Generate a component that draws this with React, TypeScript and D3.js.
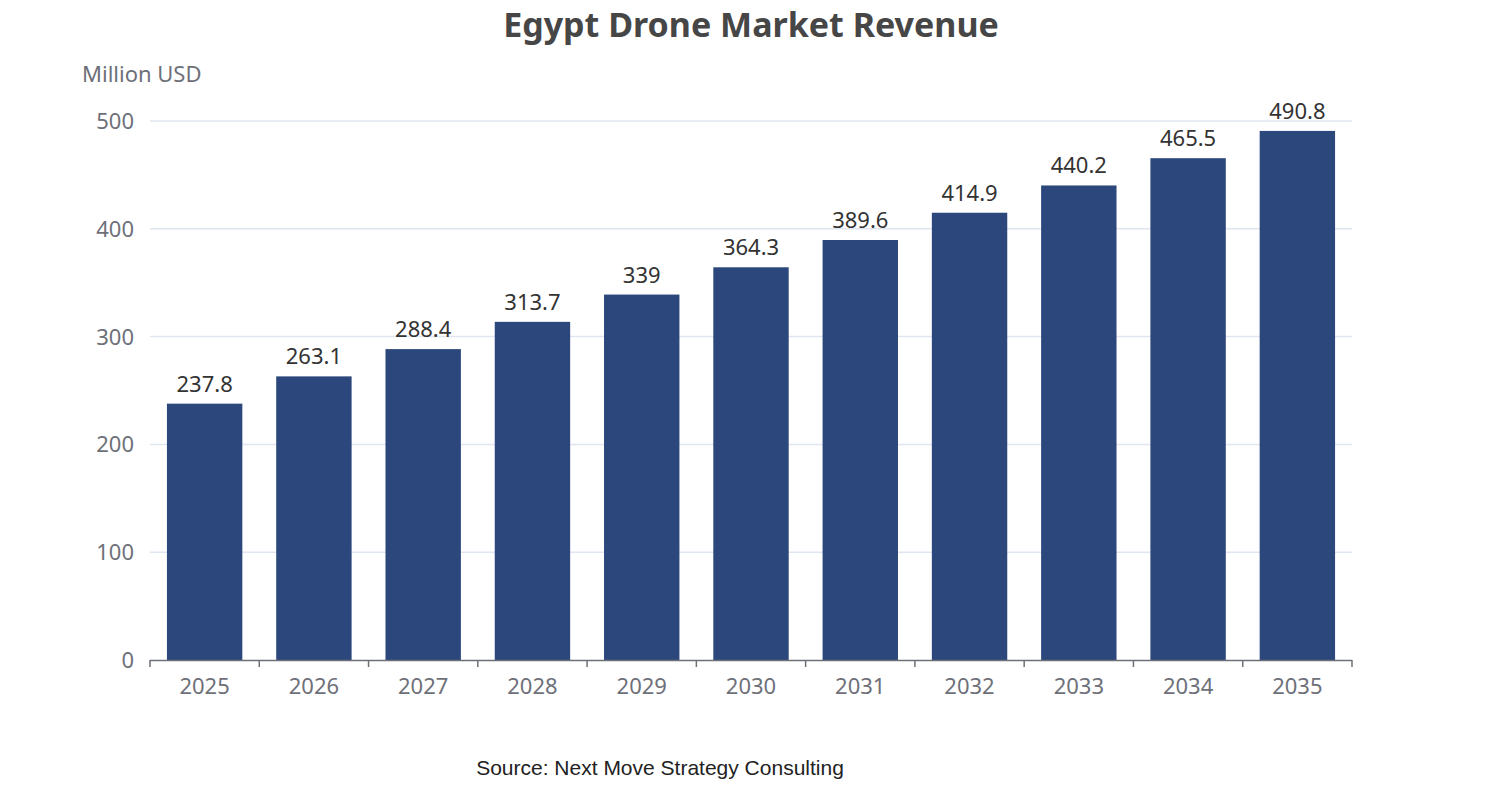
import React from "react";
import * as d3 from "d3";

const years = ["2025","2026","2027","2028","2029","2030","2031","2032","2033","2034","2035"];
const revenue = [237.8,263.1,288.4,313.7,339,364.3,389.6,414.9,440.2,465.5,490.8];
const yTicks = [0,100,200,300,400,500];

export default function App() {
  const W = 1502, H = 800;
  const x = d3.scaleBand().domain(years).range([150, 1352]).paddingInner(0.31).paddingOuter(0.155);
  const xb = d3.scaleBand().domain(years).range([150, 1352]);
  const y = d3.scaleLinear().domain([0, 500]).range([660, 121]);
  const font = "'Noto Sans', 'Open Sans', sans-serif";
  return (
    <svg width={W} height={H} style={{ position: "absolute", left: 0, top: 0 }}>
      <rect width={W} height={H} fill="#fff" />
      <text x={751} y={37} textAnchor="middle" fontFamily={font} fontWeight="bold" fontSize={34} fill="#464646">Egypt Drone Market Revenue</text>
      <text x={82} y={82} fontFamily={font} fontSize={22} fill="#6e7079">Million USD</text>
      {yTicks.map(t => (
        <g key={t}>
          {t > 0 && <line x1={150} x2={1352} y1={y(t)} y2={y(t)} stroke="#e0e6f1" strokeWidth={1.5} />}
          <text x={134} y={y(t) + 8} textAnchor="end" fontFamily={font} fontSize={22} fill="#6e7079">{t}</text>
        </g>
      ))}
      {years.map((yr, i) => (
        <g key={yr}>
          <rect x={x(yr)} y={y(revenue[i])} width={x.bandwidth()} height={660 - y(revenue[i])} fill="#2b477b" />
          <text x={x(yr)! + x.bandwidth() / 2} y={y(revenue[i]) - 12} textAnchor="middle" fontFamily={font} fontSize={22} fill="#333">{revenue[i]}</text>
          <text x={xb(yr)! + xb.bandwidth() / 2} y={694} textAnchor="middle" fontFamily={font} fontSize={22} fill="#6e7079">{yr}</text>
        </g>
      ))}
      <line x1={150} x2={1352} y1={660.5} y2={660.5} stroke="#6e7079" strokeWidth={1.5} />
      {[...years.map(yr => xb(yr)!), 1352].map((v, i) => (
        <line key={i} x1={v} x2={v} y1={660} y2={667} stroke="#6e7079" strokeWidth={1.5} />
      ))}
      <text x={660} y={775} textAnchor="middle" fontFamily="'Liberation Sans', Arial, sans-serif" fontSize={21} fill="#222">Source: Next Move Strategy Consulting</text>
    </svg>
  );
}
